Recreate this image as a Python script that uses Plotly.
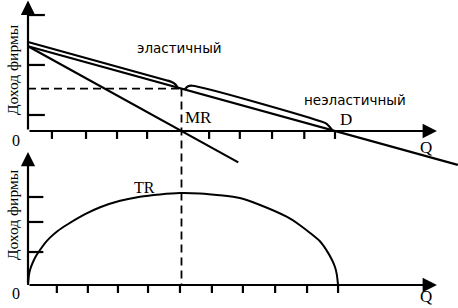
import plotly.graph_objects as go

# ---------------- data ----------------
# demand line D  (Q, price)
demand_q = [0, 10, 14.0]
demand_p = [8, 0, -3.2]
# marginal revenue MR
mr_q = [0, 5, 6.85]
mr_p = [8, 0, -2.96]
# outline bracket over the elastic part
elastic_q = [0, 4.5, 4.68, 4.8, 4.87]
elastic_p = [8.4, 4.79, 4.62, 4.4, 4.1]
# outline bracket over the inelastic part
inelastic_q = [5.1, 5.2, 5.35, 9.5, 9.72, 9.9]
inelastic_p = [3.9, 4.2, 4.27, 0.95, 0.7, 0.12]
# midpoint of demand (unit elasticity)
mid_q = 5
mid_p = 4
# total revenue TR
tr_q = [0, 0.033, 0.081, 0.163, 0.26, 0.39, 0.554, 0.717, 0.977, 1.27, 1.86,
        2.35, 3.0, 3.65, 4.3, 4.95, 5.6, 6.25, 6.9, 7.56, 8.44, 8.86, 9.19,
        9.51, 9.71, 9.9, 10.0, 10.06, 10.1]
tr_v = [0, 2.26, 3.59, 5.0, 6.3, 7.6, 9.1, 10.3, 11.8, 13.1, 15.4,
        16.9, 18.3, 19.2, 19.7, 20.0, 19.9, 19.5, 18.9, 17.4, 14.8, 13.0, 11.3,
        9.5, 7.7, 5.5, 3.9, 2.26, 0]
# tick positions
top_xticks = [0.78, 1.89, 2.9, 3.88, 5.9, 6.9, 7.95, 9.0, 10.0]
top_yticks = [10.94, 6.23, 1.51]
bot_xticks = [0.94, 1.95, 2.93, 3.91, 4.95, 5.99, 7.0, 8.05, 9.09, 10.1]
bot_yticks = [19.13, 13.7, 7.17]
# labels
lbl_elastic = "эластичный"
lbl_inelastic = "неэластичный"
lbl_y = "Доход фирмы"

# ---------------- axes ranges ----------------
X_RANGE = [-0.912, 14.007]
P_RANGE = [-16.698, 12.358]
TR_RANGE = [-5.0, 61.957]
P_TOP, Q_TIP, TR_TOP = 12.3, 13.32, 28.9


def p_to_tr(p):
    return TR_RANGE[0] + (p - P_RANGE[0]) / (P_RANGE[1] - P_RANGE[0]) * (TR_RANGE[1] - TR_RANGE[0])


BLACK = "#000000"
LW = 2.2
fig = go.Figure()


def line(x, y, yaxis="y", dash="solid", shape="linear", width=LW, smoothing=0.8):
    fig.add_trace(go.Scatter(x=x, y=y, yaxis=yaxis, mode="lines", hoverinfo="skip",
                             line=dict(color=BLACK, width=width, dash=dash, shape=shape,
                                       smoothing=smoothing),
                             showlegend=False))


line(demand_q, demand_p)
line(mr_q, mr_p)
line(elastic_q, elastic_p, shape="spline")
line(inelastic_q, inelastic_p, shape="spline")
line(tr_q, tr_v, yaxis="y2", shape="spline", smoothing=0.6, width=2)

# dashed guides
line([0, mid_q], [mid_p, mid_p], dash="8px,5px", width=1.8)
line([mid_q, mid_q], [p_to_tr(mid_p), 0], yaxis="y2", dash="8px,5px", width=1.8)

# ticks
tx, ty = [], []
for q in top_xticks:
    tx += [q, q, None]
    ty += [0, -0.75, None]
for p in top_yticks:
    tx += [0, 0.55, None]
    ty += [p, p, None]
line(tx, ty, width=2.2)
bx, by = [], []
for q in bot_xticks:
    bx += [q, q, None]
    by += [0, -1.74, None]
for t in bot_yticks:
    bx += [0, 0.5, None]
    by += [t, t, None]
line(bx, by, yaxis="y2", width=2.2)

# axes with arrowheads
arrows = [
    dict(x=0, y=P_TOP, ax=0, ay=0, yref="y", ayref="y"),
    dict(x=Q_TIP, y=0, ax=0, ay=0, yref="y", ayref="y"),
    dict(x=0, y=TR_TOP, ax=0, ay=0, yref="y2", ayref="y2"),
    dict(x=Q_TIP, y=0, ax=0, ay=0, yref="y2", ayref="y2"),
]
for a in arrows:
    fig.add_annotation(xref="x", axref="x", showarrow=True, arrowhead=2,
                       arrowsize=1.3, arrowwidth=2.2, arrowcolor=BLACK, text="", **a)

serif = dict(family="Liberation Serif", size=17, color=BLACK)
serif_s = dict(family="Liberation Serif", size=16, color=BLACK)
sans = dict(family="DejaVu Sans", size=13.5, color=BLACK)
ylab = dict(family="Liberation Serif", size=15.5, color=BLACK)
labels = [
    (lbl_elastic, 4.92, 7.83, "y", sans, 0),
    (lbl_inelastic, 10.65, 2.92, "y", sans, 0),
    ("MR", 5.57, 1.23, "y", serif, 0),
    ("D", 10.36, 1.04, "y", serif, 0),
    ("Q", 12.96, -1.6, "y", serif, 0),
    ("0", -0.39, -0.94, "y", serif_s, 0),
    ("TR", 3.81, 21.3, "y2", serif_s, 0),
    ("Q", 12.96, -2.6, "y2", serif, 0),
    ("0", -0.39, -1.74, "y2", serif_s, 0),
    (lbl_y, -0.52, 5.75, "y", ylab, -90),
    (lbl_y, -0.52, 15.2, "y2", ylab, -90),
]
for text, x, y, yref, font, ang in labels:
    fig.add_annotation(x=x, y=y, xref="x", yref=yref, text=text, showarrow=False,
                       font=font, textangle=ang, xanchor="center", yanchor="middle")

fig.update_layout(
    width=458, height=308, margin=dict(l=0, r=0, t=0, b=0),
    paper_bgcolor="white", plot_bgcolor="white",
    xaxis=dict(range=X_RANGE, visible=False, domain=[0, 1]),
    yaxis=dict(range=P_RANGE, visible=False, domain=[0, 1]),
    yaxis2=dict(range=TR_RANGE, visible=False, domain=[0, 1], overlaying="y"),
    showlegend=False,
)
fig.write_html("out.html", config={"displayModeBar": False})
